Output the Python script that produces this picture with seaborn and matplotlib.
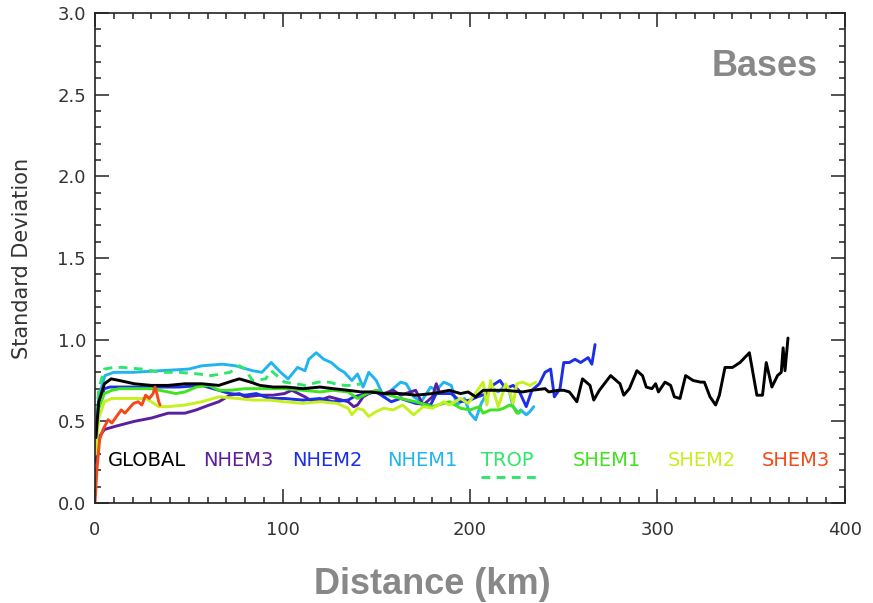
import matplotlib
matplotlib.use("Agg")
import matplotlib.pyplot as plt
from matplotlib.ticker import MultipleLocator
import seaborn as sns
import pandas as pd

# ---------------- data ----------------
global_x = [0.5, 2, 5, 8.6, 13, 21, 30, 39, 48, 57, 66, 74, 77, 83, 88, 95, 102, 111, 120, 127,
            135, 142, 147, 154, 163, 171, 180, 189, 195, 199, 203, 207, 212, 219, 228, 233, 240, 242,
            247, 250, 253, 257, 260, 264, 266, 269, 275, 278, 280, 282, 285, 289, 292, 294, 297, 299,
            300.5, 304, 307, 309, 312, 315, 319, 323, 325, 328, 331, 333, 336, 340, 344, 349, 353,
            356, 358, 361, 364, 366, 367, 368, 369.6]
global_y = [0.40, 0.62, 0.73, 0.76, 0.75, 0.73, 0.72, 0.72, 0.73, 0.73, 0.72, 0.75, 0.76, 0.74, 0.72,
            0.71, 0.71, 0.70, 0.71, 0.70, 0.69, 0.68, 0.68, 0.67, 0.67, 0.66, 0.67, 0.69, 0.67, 0.68,
            0.65, 0.69, 0.69, 0.69, 0.68, 0.69, 0.70, 0.68, 0.69, 0.69, 0.68, 0.62, 0.76, 0.72, 0.63,
            0.69, 0.78, 0.75, 0.73, 0.66, 0.70, 0.81, 0.78, 0.71, 0.70, 0.73, 0.68, 0.74, 0.72, 0.65,
            0.64, 0.78, 0.75, 0.74, 0.74, 0.65, 0.60, 0.66, 0.83, 0.83, 0.86, 0.92, 0.66, 0.66, 0.86,
            0.71, 0.78, 0.80, 0.95, 0.81, 1.01]

nhem3_x = [0.5, 2, 5, 11, 21, 30, 39, 48, 54, 61, 66, 72, 77, 80, 88, 95, 101, 105, 112, 116, 120,
           125, 135, 138, 140, 143, 146, 150, 154, 159, 163, 171, 175, 180, 182, 184]
nhem3_y = [0.25, 0.40, 0.45, 0.47, 0.50, 0.52, 0.55, 0.55, 0.57, 0.60, 0.62, 0.66, 0.67, 0.65, 0.66,
           0.66, 0.67, 0.69, 0.65, 0.62, 0.63, 0.65, 0.62, 0.59, 0.60, 0.65, 0.67, 0.69, 0.67, 0.69,
           0.66, 0.69, 0.60, 0.65, 0.73, 0.67]

nhem2_x = [0.5, 2, 5, 8, 15, 30, 45, 57, 66, 72, 80, 86, 93, 101, 111, 120, 127, 135, 138, 145, 150,
           154, 158, 163, 171, 179, 182, 190, 195, 200, 204, 209, 212, 216, 219, 223, 226, 230, 233,
           237, 240, 243, 245, 248, 250, 253, 256, 259, 263, 265, 266.7]
nhem2_y = [0.40, 0.60, 0.70, 0.71, 0.71, 0.71, 0.71, 0.72, 0.69, 0.67, 0.66, 0.67, 0.64, 0.64, 0.63,
           0.64, 0.62, 0.63, 0.65, 0.67, 0.68, 0.65, 0.62, 0.64, 0.61, 0.60, 0.67, 0.67, 0.62, 0.63,
           0.65, 0.67, 0.72, 0.75, 0.70, 0.72, 0.69, 0.59, 0.69, 0.73, 0.80, 0.82, 0.65, 0.70, 0.86,
           0.86, 0.88, 0.86, 0.89, 0.85, 0.97]

nhem1_x = [0.5, 2, 5.3, 10, 20, 35, 50, 57, 68, 75, 84, 89, 94, 99, 103, 108, 112, 114, 118, 122,
           126, 130, 133, 137, 140, 143, 146, 150, 154, 159, 163, 166, 170, 174, 179, 182, 186, 190,
           193, 197, 200, 203, 206, 209, 211, 215, 218, 221, 223, 226, 227, 230, 232, 234]
nhem1_y = [0.42, 0.65, 0.78, 0.80, 0.80, 0.81, 0.82, 0.84, 0.85, 0.84, 0.81, 0.80, 0.86, 0.80, 0.76,
           0.83, 0.81, 0.88, 0.92, 0.88, 0.86, 0.82, 0.80, 0.75, 0.79, 0.71, 0.80, 0.75, 0.65, 0.70,
           0.74, 0.73, 0.65, 0.62, 0.71, 0.69, 0.74, 0.72, 0.60, 0.64, 0.55, 0.51, 0.61, 0.67, 0.71,
           0.68, 0.71, 0.68, 0.59, 0.55, 0.57, 0.54, 0.56, 0.59]

trop_x = [0.5, 2, 5, 10, 15, 25, 35, 45, 55, 62, 67, 72, 77, 80, 84, 91, 94, 98, 101, 107, 112, 119,
          125, 128, 133, 137, 142]
trop_y = [0.45, 0.70, 0.82, 0.83, 0.83, 0.82, 0.80, 0.80, 0.79, 0.78, 0.79, 0.80, 0.84, 0.82, 0.75,
          0.76, 0.81, 0.77, 0.74, 0.73, 0.72, 0.74, 0.74, 0.73, 0.72, 0.72, 0.73]

shem1_x = [0.5, 2, 5, 9, 13, 20, 30, 39, 43, 48, 54, 61, 66, 72, 80, 89, 101, 111, 120, 127, 135,
           140, 145, 150, 154, 163, 171, 180, 189, 195, 200, 205, 207, 211, 215, 218, 221, 223, 225, 227]
shem1_y = [0.35, 0.58, 0.67, 0.69, 0.70, 0.70, 0.70, 0.68, 0.67, 0.68, 0.71, 0.72, 0.69, 0.69, 0.70,
           0.70, 0.70, 0.69, 0.68, 0.69, 0.68, 0.64, 0.67, 0.69, 0.67, 0.64, 0.62, 0.59, 0.62, 0.58,
           0.57, 0.59, 0.55, 0.57, 0.57, 0.58, 0.60, 0.59, 0.55, 0.56]

shem2_x = [0.5, 2, 5, 9, 13, 20, 27, 30, 34, 39, 48, 57, 66, 76, 84, 93, 101, 111, 120, 129, 135, 137,
           140, 143, 146, 150, 154, 159, 164, 170, 175, 180, 186, 189, 195, 199, 204, 207, 209, 211,
           215, 216, 219, 221, 223, 225, 228, 232, 235]
shem2_y = [0.30, 0.52, 0.62, 0.64, 0.64, 0.64, 0.64, 0.62, 0.59, 0.59, 0.60, 0.62, 0.65, 0.64, 0.63,
           0.63, 0.62, 0.61, 0.62, 0.61, 0.58, 0.54, 0.58, 0.57, 0.53, 0.56, 0.58, 0.57, 0.60, 0.54,
           0.59, 0.58, 0.62, 0.60, 0.64, 0.61, 0.69, 0.74, 0.60, 0.75, 0.59, 0.62, 0.73, 0.69, 0.61,
           0.73, 0.74, 0.72, 0.74]

shem3_x = [0, 1, 2.5, 4.3, 7, 9, 11.5, 14, 16, 19, 20.6, 23, 25, 27, 29, 31, 32, 33, 34, 34.7]
shem3_y = [0.0, 0.20, 0.39, 0.45, 0.51, 0.49, 0.53, 0.57, 0.55, 0.59, 0.61, 0.62, 0.60, 0.66, 0.64,
           0.67, 0.71, 0.67, 0.62, 0.60]

region_names = ["GLOBAL", "NHEM3", "NHEM2", "NHEM1", "TROP", "SHEM1", "SHEM2", "SHEM3"]
label_x_km = [7, 57.6, 105, 156, 206, 255, 305.6, 355.7]
x_ticks = [0, 100, 200, 300, 400]
y_ticks = [0.0, 0.5, 1.0, 1.5, 2.0, 2.5, 3.0]

# ---------------- styling ----------------
colors = {
    "GLOBAL": "#000000",
    "NHEM3": "#5b1f9e",
    "NHEM2": "#1c2fe6",
    "NHEM1": "#22b4f0",
    "TROP": "#2ee66a",
    "SHEM1": "#3ee41e",
    "SHEM2": "#c6f01e",
    "SHEM3": "#f24a18",
}
series = {
    "GLOBAL": (global_x, global_y),
    "NHEM3": (nhem3_x, nhem3_y),
    "NHEM2": (nhem2_x, nhem2_y),
    "NHEM1": (nhem1_x, nhem1_y),
    "TROP": (trop_x, trop_y),
    "SHEM1": (shem1_x, shem1_y),
    "SHEM2": (shem2_x, shem2_y),
    "SHEM3": (shem3_x, shem3_y),
}
draw_order = ["NHEM1", "TROP", "NHEM3", "NHEM2", "SHEM1", "SHEM2", "GLOBAL", "SHEM3"]

sns.set_style("ticks")
plt.rcParams["font.family"] = ["DejaVu Sans"]

fig = plt.figure(figsize=(8.73, 6.03), dpi=100)
ax = fig.add_axes([95 / 873, 1 - 503 / 603, 750 / 873, 490 / 603])

LW = 2.1
for name in draw_order:
    xs, ys = series[name]
    df = pd.DataFrame({"km": xs, "sd": ys})
    kw = {}
    if name == "TROP":
        kw["linestyle"] = (0, (3.0, 2.2))
    sns.lineplot(data=df, x="km", y="sd", color=colors[name], linewidth=LW,
                 estimator=None, sort=False, ax=ax, legend=False, **kw)

# colored text legend
for name, lx in zip(region_names, label_x_km):
    ax.text(lx, 0.263, name, color=colors[name], fontsize=14, ha="left", va="center")
ax.plot([206, 236], [0.16, 0.16], color=colors["TROP"], linewidth=LW, linestyle=(0, (3.0, 2.2)))

ax.set_xlim(0, 400)
ax.set_ylim(0, 3.0)
ax.set_xticks(x_ticks)
ax.set_yticks(y_ticks)
ax.set_xticklabels([str(t) for t in x_ticks])
ax.set_yticklabels([f"{t:.1f}" for t in y_ticks])
ax.xaxis.set_minor_locator(MultipleLocator(10))
ax.yaxis.set_minor_locator(MultipleLocator(0.1))

ax.tick_params(which="both", direction="in", top=True, right=True, color="#222222", width=1.1)
ax.tick_params(which="major", length=10)
ax.tick_params(which="minor", length=4.5)
ax.tick_params(axis="x", which="major", pad=13, labelsize=13, labelcolor="#333333")
ax.tick_params(axis="y", which="major", pad=6.5, labelsize=13, labelcolor="#333333")
for sp in ax.spines.values():
    sp.set_visible(True)
    sp.set_color("#222222")
    sp.set_linewidth(1.2)

ax.set_xlabel("")
ax.set_ylabel("")
fig.text(22 / 873, 1 - 258 / 603, "Standard Deviation", rotation=90, ha="center", va="center",
         fontsize=15, color="#333333")
fig.text(432 / 873, 1 - 584 / 603, "Distance (km)", ha="center", va="center",
         fontsize=26, fontweight="bold", color="#888888", family=["Liberation Sans", "DejaVu Sans"])
ax.text(0.964, 0.89, "Bases", transform=ax.transAxes, ha="right", va="center",
        fontsize=26, fontweight="bold", color="#888888", family=["Liberation Sans", "DejaVu Sans"])

fig.savefig("out.png", dpi=100)
